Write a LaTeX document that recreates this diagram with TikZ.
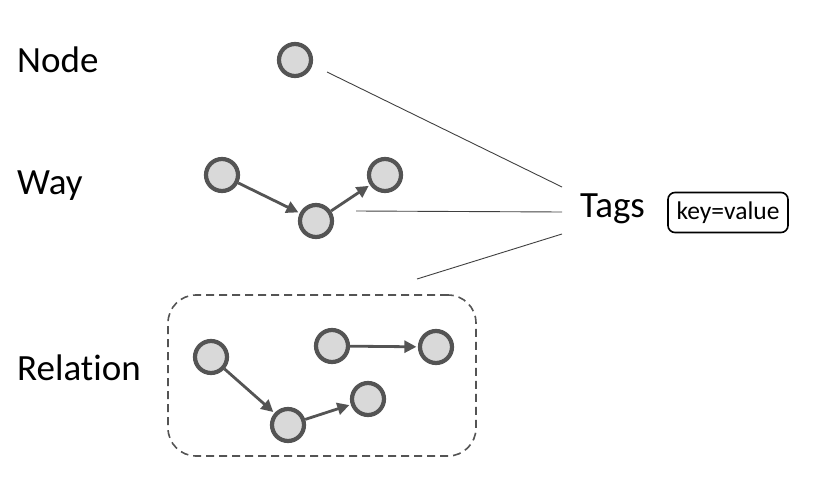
\documentclass[tikz,border=0pt]{standalone}
\usepackage{fontspec}
\setmainfont[Ligatures=NoCommon]{Carlito}
\usetikzlibrary{arrows.meta,positioning}
\definecolor{osmedge}{RGB}{84,84,84}
\definecolor{osmfill}{RGB}{217,217,217}
\definecolor{taglink}{RGB}{64,64,64}
\tikzset{
  vtx/.style={circle, draw=osmedge, fill=osmfill, line width=4.2pt,
              minimum size=32pt, inner sep=0pt},
  wayarr/.style={-{Triangle[length=12pt,width=12pt]}, osmedge, line width=2.8pt,
                 shorten >=1.5pt},
  tagline/.style={taglink, line width=0.9pt},
  lbl/.style={anchor=base west, inner sep=0pt, font=\fontsize{37}{44}\selectfont},
  kvbox/.style={draw=black, line width=1.6pt, rounded corners=7pt, minimum width=120pt,
                minimum height=40pt, inner sep=0pt, font=\fontsize{25.5}{30}\selectfont},
  relbox/.style={draw=osmedge, line width=1.6pt, dash pattern=on 8pt off 5pt,
                 rounded corners=28pt, minimum width=308pt, minimum height=161pt},
}

\begin{document}
\begin{tikzpicture}[x=1pt,y=-1pt]
    \useasboundingbox (0,0) rectangle (840,492);

    % labels on the left
    \node[lbl] (lnode) at (17,73) {Node};
    \node[lbl] (lway) at (17,194) {Way};
    \node[lbl] (lrel) at (17,380) {Relation};

    % node
    \node[vtx] (n1) at (295,60) {};

    % way
    \node[vtx] (w1) at (222,175) {};
    \node[vtx] (w2) at (316,221) {};
    \node[vtx] (w3) at (385,175) {};
    \draw[wayarr] (w1) -- (w2);
    \draw[wayarr] (w2) -- (w3);

    % relation
    \node[relbox] (rel) at (322,375.5) {};
    \node[vtx] (r1) at (211,357) {};
    \node[vtx] (r2) at (288,425) {};
    \node[vtx] (r3) at (368,399) {};
    \node[vtx] (r4) at (332,346) {};
    \node[vtx] (r5) at (436,347) {};
    \draw[wayarr] (r1) -- (r2);
    \draw[wayarr] (r2) -- (r3);
    \draw[wayarr] (r4) -- (r5);

    % tags
    \node[lbl] (tags) at (580,217) {Tags};
    \node[kvbox] (kv) at (728,212.5) {key=value};

    \coordinate (tn) at (327,72);
    \coordinate (tw) at (356,211);
    \coordinate (tr) at (417,279);
    \coordinate (ta) at (562,187);
    \coordinate (tb) at (562,212);
    \coordinate (tc) at (562,234);
    \draw[tagline] (tn) -- (ta);
    \draw[tagline] (tw) -- (tb);
    \draw[tagline] (tr) -- (tc);
  \end{tikzpicture}
\end{document}
